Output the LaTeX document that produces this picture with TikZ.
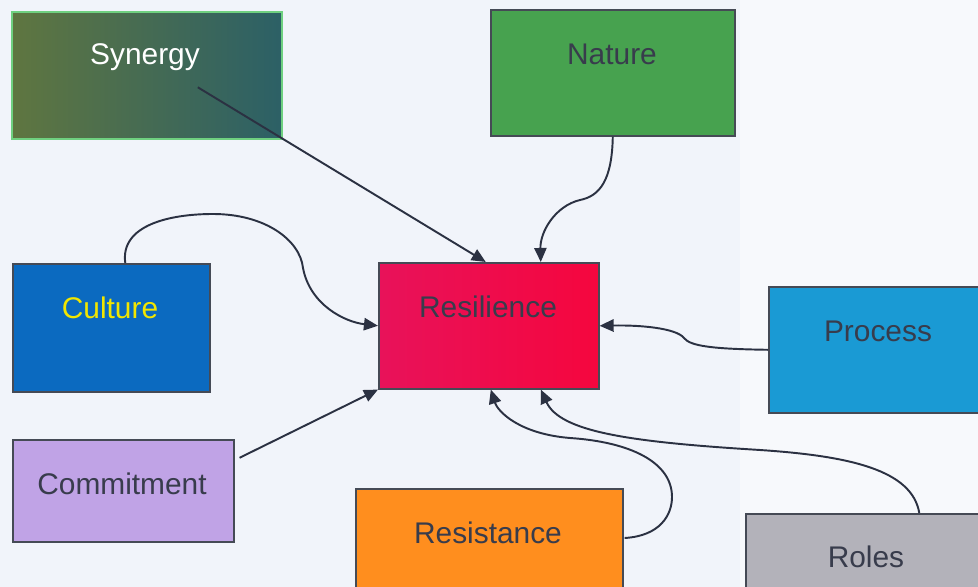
\documentclass[tikz,border=0pt]{standalone}
\usepackage{fontspec}
\setmainfont{Liberation Sans}
\usetikzlibrary{arrows.meta,calc}
\definecolor{bgc}{HTML}{F1F4FA}
\definecolor{bgr}{HTML}{F7F9FC}
\definecolor{synL}{HTML}{5F7640}
\definecolor{synR}{HTML}{2C6066}
\definecolor{natc}{HTML}{47A24F}
\definecolor{culc}{HTML}{0B6AC0}
\definecolor{resL}{HTML}{E8125A}
\definecolor{resR}{HTML}{F5063E}
\definecolor{proc}{HTML}{1A9AD4}
\definecolor{comc}{HTML}{C0A3E6}
\definecolor{rstc}{HTML}{FF8E1E}
\definecolor{rolc}{HTML}{B3B2BA}
\definecolor{txt}{HTML}{383C4C}
\definecolor{yel}{HTML}{F2E600}
\definecolor{lnc}{HTML}{2B3142}
\definecolor{bord}{HTML}{454A55}
\definecolor{synB}{HTML}{6FD080}
\tikzset{
  box/.style={draw=bord, line width=0.9pt, rectangle, anchor=north west, inner sep=0pt},
  lbl/.style={font=\fontsize{17}{20}\selectfont, text=txt, inner sep=0pt},
  conn/.style={draw=lnc, line width=1.1pt, -{Triangle[length=8pt,width=7pt]}}
}
\begin{document}
\begin{tikzpicture}[x=0.02cm,y=-0.02cm]
\clip (0,0) rectangle (978,587);
\fill[bgc] (0,0) rectangle (978,587);
\fill[bgr] (740,0) rectangle (978,587);
% boxes
\node[box, draw=synB, left color=synL, right color=synR, minimum width=270*0.02cm, minimum height=127*0.02cm] (syn) at (11,11) {};
\node[box, fill=natc, minimum width=244*0.02cm, minimum height=126*0.02cm] (nat) at (490,9) {};
\node[box, fill=culc, minimum width=197*0.02cm, minimum height=128*0.02cm] (cul) at (12,263) {};
\node[box, left color=resL, right color=resR, minimum width=220*0.02cm, minimum height=126*0.02cm] (res) at (378,262) {};
\node[box, fill=proc, minimum width=230*0.02cm, minimum height=126*0.02cm] (pro) at (768,286) {};
\node[box, fill=comc, minimum width=221*0.02cm, minimum height=102*0.02cm] (com) at (12,439) {};
\node[box, fill=rstc, minimum width=267*0.02cm, minimum height=120*0.02cm] (rst) at (355,488) {};
\node[box, fill=rolc, minimum width=245*0.02cm, minimum height=100*0.02cm] (rol) at (745,513) {};
% labels
\node[lbl, text=white] (synt) at (145,57) {Synergy};
\node[lbl] (natt) at (612,54) {Nature};
\node[lbl, text=yel] (cult) at (110,308) {Culture};
\node[lbl] (rest) at (488,307) {Resilience};
\node[lbl] (prot) at (878,331) {Process};
\node[lbl] (comt) at (122,484) {Commitment};
\node[lbl] (rstt) at (488,533) {Resistance};
\node[lbl] (rolt) at (866,557) {Roles};
% connectors
\draw[conn] ($(syn.center)+(51,12)$) -- ($(res.north)+(-3,0)$);
\draw[conn] (nat.south) .. controls (612,180) and (600,196) .. (580,200)
  .. controls (555,206) and (540,232) .. ($(res.north)+(52,0)$);
\draw[conn] ($(cul.north)+(14,0)$) .. controls (120,225) and (170,214) .. (213,214)
  .. controls (265,214) and (300,240) .. (303,268)
  .. controls (310,305) and (345,322) .. (res.west);
\draw[conn] ($(com.east)+(5,-33)$) -- (res.south west);
\draw[conn] (pro.west) .. controls (712,349) and (690,346) .. (684,338)
  .. controls (676,328) and (640,325) .. (res.east);
\draw[conn] ($(rst.north east)+(1,50)$) .. controls (660,536) and (672,515) .. (672,497)
  .. controls (672,462) and (630,442) .. (570,438)
  .. controls (520,434) and (498,412) .. ($(res.south)+(2,0)$);
\draw[conn] ($(rol.north)+(51,0)$) .. controls (912,470) and (850,456) .. (760,450)
  .. controls (630,442) and (560,432) .. ($(res.south)+(52,0)$);
\end{tikzpicture}
\end{document}
